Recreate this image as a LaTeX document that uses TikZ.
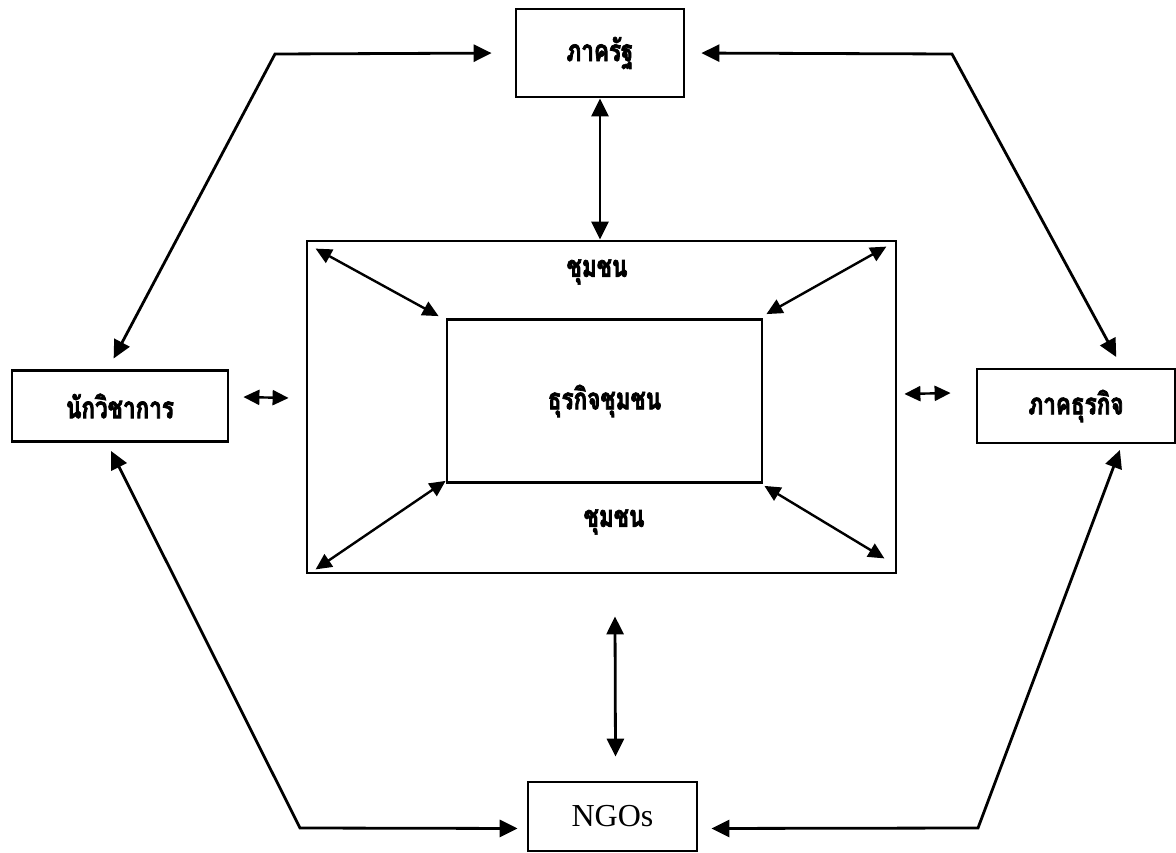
\documentclass[tikz,border=0pt]{standalone}
\usepackage{fontspec}
\usepackage{tikz}
\usetikzlibrary{arrows.meta}
\setmainfont{Liberation Serif}
\newfontfamily\thaifont[Script=Thai, FakeStretch=0.75, BoldFeatures={FakeBold=2.4}]{Loma}
\tikzset{
  link/.style={line width=2.8pt, {Triangle[length=18pt,width=17pt]}-{Triangle[length=18pt,width=17pt]}},
  minilink/.style={line width=2.4pt, {Triangle[length=16pt,width=15pt]}-{Triangle[length=16pt,width=15pt]}},
  box/.style={draw, line width=2.8pt, inner sep=0, font=\thaifont\bfseries\fontsize{30}{32}\selectfont},
  commlabel/.style={font=\thaifont\bfseries\fontsize{30}{32}\selectfont}
}

\begin{document}
\begin{tikzpicture}[x=1pt, y=-1pt]
                \useasboundingbox (0,0) rectangle (1176,853);
                \node [box, minimum width=589pt, minimum height=332pt] (comm) at (601.5,407) {};
                \node [box, minimum width=315pt, minimum height=163pt] (cbiz) at (604.5,401) {ธุรกิจชุมชน};
                \node [box, minimum width=168pt, minimum height=88pt] (gov) at (600,53) {ภาครัฐ};
                \node [box, minimum width=216pt, minimum height=71pt] (aca) at (120,406) {นักวิชาการ};
                \node [box, minimum width=198pt, minimum height=74pt] (biz) at (1076,406) {ภาคธุรกิจ};
                \node [box, minimum width=169pt, minimum height=69pt, font=\fontsize{32}{36}\selectfont] (ngo) at (612.5,816.5) {NGOs};
                \node [commlabel] (topcomm) at (597,272) {ชุมชน};
                \node [commlabel] (botcomm) at (614,522) {ชุมชน};
                \coordinate (tl) at (275,54);
                \coordinate (tr) at (952,54);
                \coordinate (bl) at (300,828);
                \coordinate (br) at (978,828);
                % hexagon round the centre
                \draw [link, shorten <=12pt, shorten >=23pt] ([xshift=-12pt]aca.north) -- (tl) -- (gov.west);
                \draw [link, shorten <=16pt, shorten >=12pt] (gov.east) -- (tr) -- ([xshift=46pt]biz.north);
                \draw [link, shorten <=9pt, shorten >=9pt] ([xshift=-13pt]aca.south) -- (bl) -- ([yshift=-12pt]ngo.west);
                \draw [link, shorten <=6pt, shorten >=13pt] ([xshift=46pt]biz.south) -- (br) -- ([yshift=-12pt]ngo.east);
                \draw [link] (gov.south) -- (gov.south |- comm.north);
                \draw [link] ([shift={(3,-24)}]ngo.north) -- ([shift={(13.5,42)}]comm.south);
                % corners of the two frames
                \draw [minilink] ([shift={(10,9)}]comm.north west) -- ([shift={(-7,-2)}]cbiz.north west);
                \draw [minilink] ([shift={(-11,7)}]comm.north east) -- ([shift={(3,-4)}]cbiz.north east);
                \draw [minilink] ([shift={(10,-5)}]comm.south west) -- ([shift={(0,-3)}]cbiz.south west);
                \draw [minilink] ([shift={(-13,-16)}]comm.south east) -- ([shift={(1,2)}]cbiz.south east);
                \draw [minilink] ([shift={(14,-9)}]aca.east) -- ([shift={(-17,-9)}]comm.west);
                \draw [minilink] ([shift={(7,-13)}]comm.east) -- ([shift={(-25,-13)}]biz.west);
        \end{tikzpicture}
\end{document}
